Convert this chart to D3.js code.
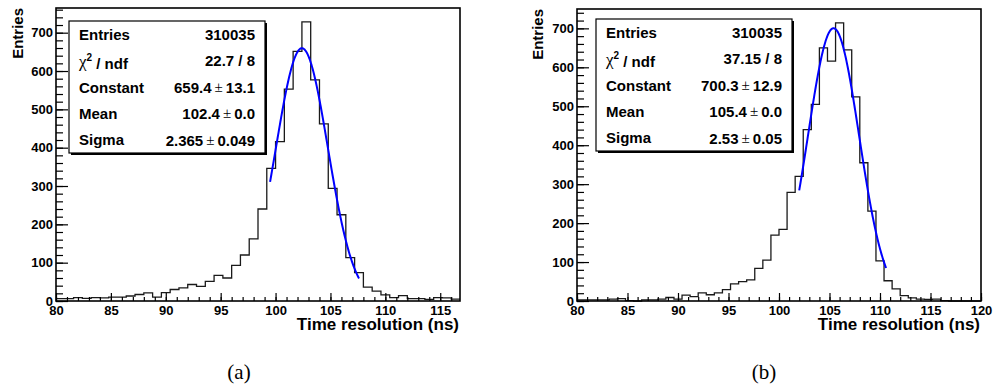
<!DOCTYPE html>
<html><head><meta charset="utf-8">
<script src="https://cdn.jsdelivr.net/npm/d3@7"></script>
<style>
html,body{margin:0;padding:0;background:#fff;}
</style></head>
<body>
<svg id="c" width="993" height="385" font-family="Liberation Sans, Arial, Helvetica, sans-serif" font-weight="bold"></svg>
<script>
// ---------------- data ----------------
const binWidth = 0.8;
const xStart = 80;
const countsA = [6,6,9,7,9,8,10,10,13,17,21,10,22,30,34,43,38,51,67,60,93,120,162,240,346,416,553,651,728,577,462,294,225,113,74,36,26,16,9,14,6,6,4,9,8,5];
const countsB = [3,3,3,3,5,6,1,0,3,3,5,9,5,15,11,21,16,21,29,44,50,54,84,105,169,184,279,320,440,505,650,616,714,645,524,355,231,103,52,31,14,8,5,4,5,1,0,0,0,0];
const fitA = {constant:659.4, mean:102.4, sigma:2.365, from:99.5, to:107.6};
const fitB = {constant:700.3, mean:105.4, sigma:2.53, from:102.0, to:110.6};
const statLabels = ["Entries","χ2 / ndf","Constant","Mean","Sigma"];
const statsA = ["310035","22.7 / 8","659.4 ± 13.1","102.4 ± 0.0","2.365 ± 0.049"];
const statsB = ["310035","37.15 / 8","700.3 ± 12.9","105.4 ± 0.0","2.53 ± 0.05"];
const xTicksA = [80,85,90,95,100,105,110,115];
const xTicksB = [80,85,90,95,100,105,110,115,120];
const yTicks = [0,100,200,300,400,500,600,700];
const xTitle = "Time resolution (ns)";
const yTitle = "Entries";
const captions = ["(a)","(b)"];

// ---------------- drawing ----------------
const svg = d3.select("#c");

function panel(opt){
  const {counts, fit, stats, xTicks, left, right, top, bottom, xMax, box, xTitleY, yTitleX, caption, captionX} = opt;
  const g = svg.append("g");
  const ymax = 1.05*d3.max(counts);
  const x = d3.scaleLinear().domain([xStart, xMax]).range([left,right]);
  const y = d3.scaleLinear().domain([0, ymax]).range([bottom, top]);

  // histogram step line
  let p = "";
  counts.forEach((c,i)=>{
    const x0 = x(xStart+i*binWidth), x1 = x(xStart+(i+1)*binWidth);
    if(i===0) p += `M${x0},${y(c)}`; else p += `V${y(c)}`;
    p += `H${x1}`;
  });
  g.append("path").attr("d",p).attr("fill","none").attr("stroke","#1a1a1a").attr("stroke-width",1.3);

  // fit
  const pts = d3.range(0,201).map(k=>fit.from+(fit.to-fit.from)*k/200);
  const line = d3.line().x(v=>x(v)).y(v=>y(fit.constant*Math.exp(-0.5*Math.pow((v-fit.mean)/fit.sigma,2))));
  g.append("path").attr("d",line(pts)).attr("fill","none").attr("stroke","#0000ff").attr("stroke-width",2);

  // frame
  g.append("rect").attr("x",left).attr("y",top).attr("width",right-left).attr("height",bottom-top)
    .attr("fill","none").attr("stroke","#000").attr("stroke-width",1.6);

  // axes
  const yMinor = d3.range(0, ymax, 20);
  g.append("g").attr("transform",`translate(${left},0)`)
    .call(d3.axisLeft(y).tickValues(yMinor).tickSize(-7).tickFormat(""))
    .call(s=>s.select(".domain").remove()).selectAll("line").attr("stroke","#000").attr("stroke-width",1.2);
  const ya = g.append("g").attr("transform",`translate(${left},0)`)
    .call(d3.axisLeft(y).tickValues(yTicks).tickSize(-12).tickPadding(3));
  ya.attr("font-family",null).attr("font-size",null);
  ya.select(".domain").remove();
  ya.selectAll("line").attr("stroke","#000").attr("stroke-width",1.2);
  ya.selectAll("text").attr("font-size",13);

  const xMinor = d3.range(xStart, xMax+0.001, 1);
  g.append("g").attr("transform",`translate(0,${bottom})`)
    .call(d3.axisBottom(x).tickValues(xMinor).tickSize(-4).tickFormat(""))
    .call(s=>s.select(".domain").remove()).selectAll("line").attr("stroke","#000").attr("stroke-width",1.2);
  const xa = g.append("g").attr("transform",`translate(0,${bottom})`)
    .call(d3.axisBottom(x).tickValues(xTicks).tickSize(-8).tickPadding(3));
  xa.attr("font-family",null).attr("font-size",null);
  xa.select(".domain").remove();
  xa.selectAll("line").attr("stroke","#000").attr("stroke-width",1.2);
  xa.selectAll("text").attr("font-size",13).attr("dy","0.45em").attr("y",8);

  // titles
  g.append("text").attr("x",right-1).attr("y",xTitleY).attr("text-anchor","end")
    .attr("dominant-baseline","middle").attr("font-size",17).text(xTitle);
  g.append("text").attr("transform",`translate(${yTitleX},${top}) rotate(-90)`).attr("text-anchor","end")
    .attr("dominant-baseline","middle").attr("font-size",15).text(yTitle);

  // stats box
  g.append("rect").attr("x",box.x+2).attr("y",box.y+2).attr("width",box.w).attr("height",box.h).attr("fill","#000");
  g.append("rect").attr("x",box.x).attr("y",box.y).attr("width",box.w).attr("height",box.h)
    .attr("fill","#fff").attr("stroke","#000").attr("stroke-width",1.2);
  const rh = box.h/statLabels.length;
  statLabels.forEach((lab,i)=>{
    const cy = box.y + rh*(i+0.5);
    const t = g.append("text").attr("x",box.x+10).attr("y",cy).attr("dominant-baseline","central").attr("font-size",15);
    if(lab.startsWith("χ")){
      t.append("tspan").attr("font-family","Liberation Serif, serif").attr("font-weight","normal").attr("font-size",17).text("χ");
      t.append("tspan").attr("font-size",10).attr("dy","-0.4em").text("2");
      t.append("tspan").attr("dy","0.4em").text(" / ndf");
    } else t.text(lab);
    const v = stats[i];
    const tv = g.append("text").attr("x",box.x+box.w-10).attr("y",cy).attr("dominant-baseline","central")
      .attr("text-anchor","end").attr("font-size",15);
    if(v.includes("±")){
      const parts = v.split("±");
      tv.append("tspan").text(parts[0].trim());
      tv.append("tspan").attr("font-family","Liberation Serif, serif").attr("font-weight","normal").attr("dx","3").text("±");
      tv.append("tspan").attr("dx","3").text(parts[1].trim());
    } else tv.text(v);
  });

  svg.append("text").attr("x",captionX).attr("y",372).attr("text-anchor","middle").attr("dominant-baseline","central")
    .attr("font-family","Liberation Serif, Times New Roman, serif").attr("font-weight","normal").attr("font-size",21).text(caption);
}

panel({counts:countsA, fit:fitA, stats:statsA, xTicks:xTicksA, left:56, right:460, top:8, bottom:301,
  xMax: xStart+countsA.length*binWidth, box:{x:69,y:21,w:196,h:132}, xTitleY:326, yTitleX:19, caption:captions[0], captionX:239});
panel({counts:countsB, fit:fitB, stats:statsB, xTicks:xTicksB, left:577, right:981, top:9, bottom:301,
  xMax: xStart+countsB.length*binWidth, box:{x:596,y:19,w:196,h:132}, xTitleY:326, yTitleX:539, caption:captions[1], captionX:764});
</script>
</body></html>
